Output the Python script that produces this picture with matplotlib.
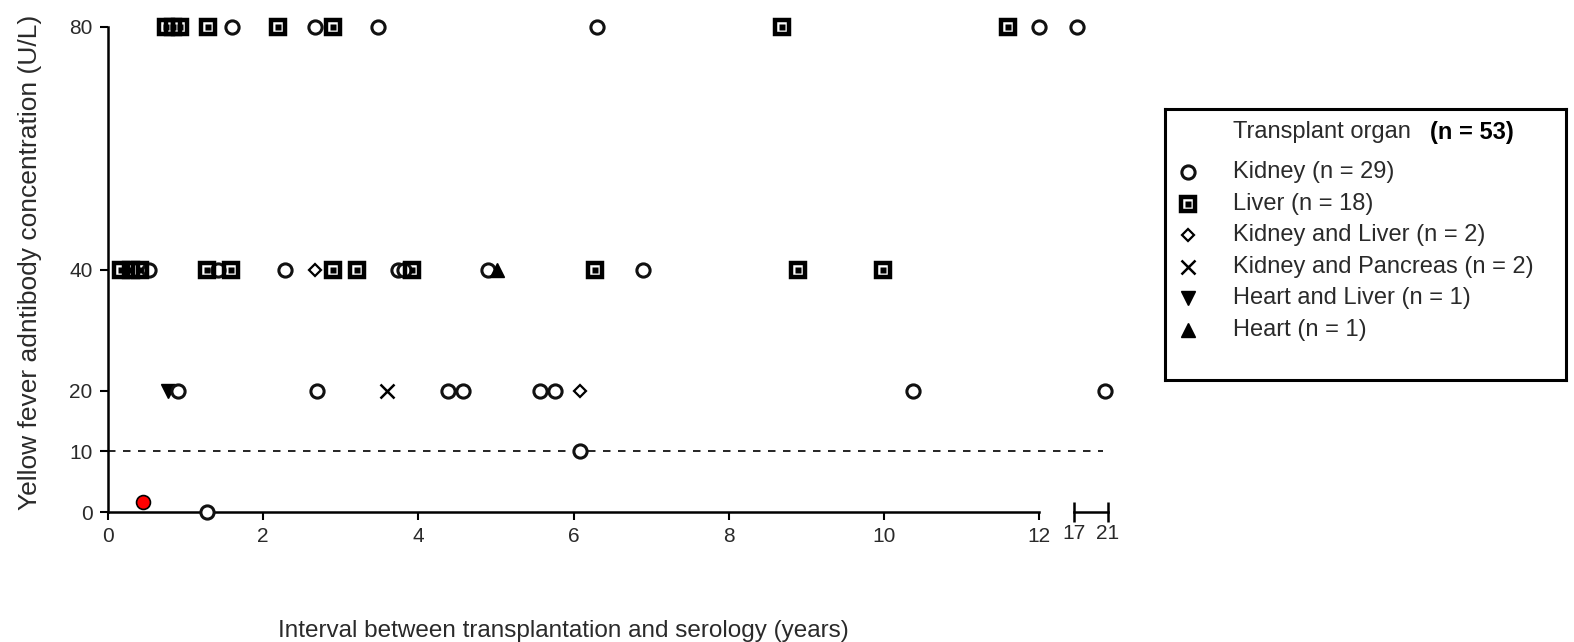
import matplotlib.pyplot as plt
import numpy as np

plt.rcParams['font.family'] = ['Liberation Sans', 'DejaVu Sans']

# values (years, U/L)
kidney_x = [1.6, 2.67, 3.48, 6.3, 12.0, 17.35,
            0.53, 1.42, 2.28, 3.74, 3.81, 4.9, 6.9,
            0.9, 2.69, 4.38, 4.57, 5.57, 5.76, 10.37, 20.6,
            6.08, 1.28]
kidney_y = [80, 80, 80, 80, 80, 80,
            40, 40, 40, 40, 40, 40, 40,
            20, 20, 20, 20, 20, 20, 20, 20,
            10, 0]
liver_x = [0.75, 0.84, 0.93, 1.29, 2.19, 2.9, 8.69, 11.6,
           0.17, 0.3, 0.41, 1.28, 1.59, 2.9, 3.21, 3.92, 6.28, 8.89, 9.99]
liver_y = [80] * 8 + [40] * 11
kid_liver_x = [2.67, 6.08]
kid_liver_y = [40, 20]
kid_panc_x = [3.6]
kid_panc_y = [20]
heart_liver_x = [0.77]
heart_liver_y = [20]
heart_x = [5.01]
heart_y = [40]
red_x = [0.45]
red_y = [1.6]

y_ticks = [0, 10, 20, 40, 80]
left_ticks = [0, 2, 4, 6, 8, 10, 12]
right_ticks = [17, 21]
cutoff = 10

legend_labels = ['Kidney (n = 29)', 'Liver (n = 18)', 'Kidney and Liver (n = 2)',
                 'Kidney and Pancreas (n = 2)', 'Heart and Liver (n = 1)', 'Heart (n = 1)']

TXT = '#2a2a2a'
W, H = 1574, 642


def box(l, t, r, b):
    return [l / W, 1 - b / H, (r - l) / W, (b - t) / H]


kidney_st = dict(marker='o', ms=9.5, mfc='white', mec='#111111', mew=2.2, ls='none')
liver_out = dict(marker='s', ms=10, mfc='none', mec='black', mew=3.2, ls='none')
liver_in = dict(marker='s', ms=4.5, mfc='black', mec='none', ls='none')
diamond_st = dict(marker='D', ms=6, mfc='white', mec='black', mew=1.6, ls='none')
cross_st = dict(marker='x', ms=9.5, mec='black', mew=1.8, ls='none')
down_st = dict(marker='v', ms=10, mfc='black', mec='black', mew=1, ls='none')
up_st = dict(marker='^', ms=10, mfc='black', mec='black', mew=1, ls='none')

fig = plt.figure(figsize=(15.74, 6.42), dpi=100)
ax1 = fig.add_axes(box(108, 27, 1039, 512))
ax2 = fig.add_axes(box(1074, 27, 1108, 512))

series = [
    (heart_liver_x, heart_liver_y, [down_st]),
    (kidney_x, kidney_y, [kidney_st]),
    (liver_x, liver_y, [liver_out, liver_in]),
    (kid_liver_x, kid_liver_y, [diamond_st]),
    (kid_panc_x, kid_panc_y, [cross_st]),
    (heart_x, heart_y, [up_st]),
]

for ax, lo, hi in [(ax1, 0, 12), (ax2, 17, 21)]:
    for xs, ys, sts in series:
        xs = np.array(xs)
        ys = np.array(ys)
        m = (xs >= lo) & (xs <= hi)
        for st in sts:
            ax.plot(xs[m], ys[m], clip_on=False, zorder=3, **st)
    ax.set_xlim(lo, hi)
    ax.set_ylim(0, 80)
    ax.spines['top'].set_visible(False)
    ax.spines['right'].set_visible(False)
    ax.spines['bottom'].set_linewidth(1.8)
    ax.spines['left'].set_linewidth(1.8)
    ax.patch.set_alpha(0)

ax1.plot(red_x, red_y, 'o', ms=10, mfc='red', mec='black', mew=1.2, clip_on=False, zorder=4)
ax1.axhline(cutoff, xmin=0, xmax=(1103 - 108) / (1039 - 108), color='black', lw=1.2,
            ls=(0, (4.5, 4.5)), clip_on=False, zorder=2)

ax1.set_xticks(left_ticks)
ax1.set_xticks([12], minor=True)
ax1.set_yticks(y_ticks)
ax1.tick_params(axis='both', which='major', length=6, width=1.5, labelsize=15,
                labelcolor=TXT, pad=5)
ax1.tick_params(axis='x', which='minor', direction='inout', length=15, width=1.8)

ax2.spines['left'].set_visible(False)
ax2.set_yticks([])
ax2.set_xticks(right_ticks)
ax2.tick_params(axis='x', direction='inout', length=15, width=1.8, labelsize=15,
                labelcolor=TXT, pad=1)

fig.text(30 / W, 1 - 262 / H, 'Yellow fever adntibody concentration (U/L)', rotation=90,
         ha='center', va='center', fontsize=19, color=TXT)
fig.text(563 / W, 1 - 631 / H, 'Interval between transplantation and serology (years)',
         ha='center', va='center', fontsize=17.5, color=TXT)

# legend box
lax = fig.add_axes(box(1165, 109, 1566, 380))
lax.set_xlim(0, 401)
lax.set_ylim(271, 0)
lax.set_xticks([])
lax.set_yticks([])
for s in lax.spines.values():
    s.set_linewidth(2.2)
lax.text(68, 23, 'Transplant organ', va='center', fontsize=17, color=TXT)
lax.text(265, 23, '(n = 53)', va='center', fontsize=17, fontweight='bold', color='black')
leg_styles = [[kidney_st], [liver_out, liver_in], [diamond_st], [cross_st], [down_st], [up_st]]
for i, (lab, sts) in enumerate(zip(legend_labels, leg_styles)):
    yy = 63 + 31.6 * i
    for st in sts:
        lax.plot([23], [yy], **st)
    lax.text(68, yy, lab, va='center', fontsize=17, color=TXT)

fig.savefig('out.png', dpi=100)
